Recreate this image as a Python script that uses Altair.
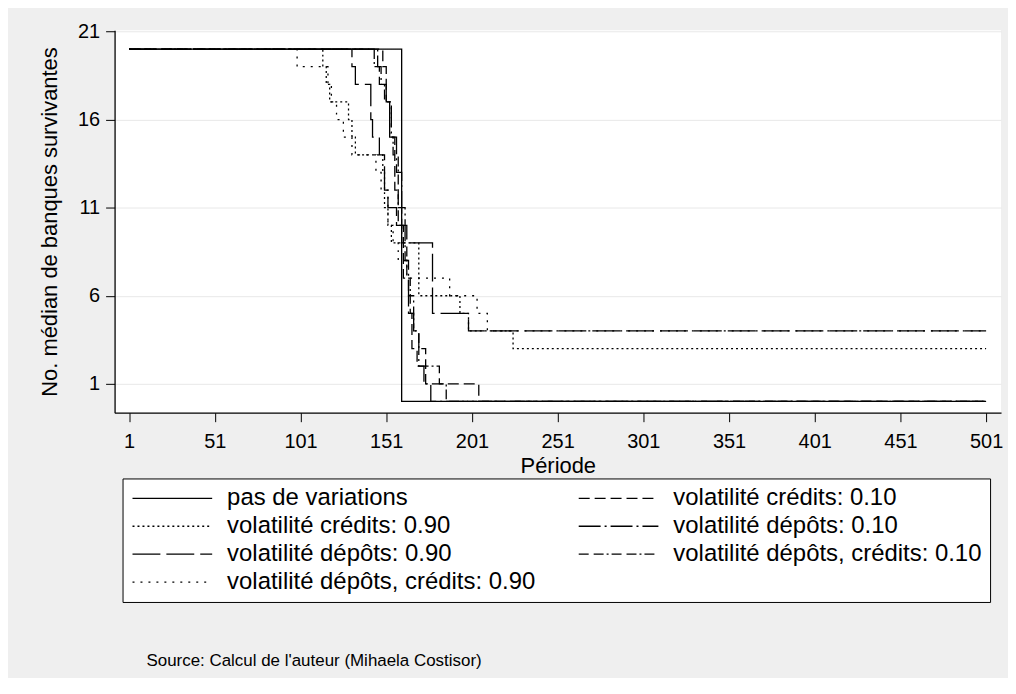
import altair as alt
import pandas as pd

# ---- data ----
series_names = [
    "pas de variations",
    "volatilité crédits: 0.10",
    "volatilité crédits: 0.90",
    "volatilité dépôts: 0.10",
    "volatilité dépôts: 0.90",
    "volatilité dépôts, crédits: 0.10",
    "volatilité dépôts, crédits: 0.90",
]

pas_periods = [1, 160, 501]
pas_values = [20, 0, 0]

c10_periods = [1, 149, 151, 153, 156, 158, 161, 164, 166, 169, 174, 205, 501]
c10_values = [20, 19, 17, 15, 12, 10, 7, 5, 3, 2, 1, 0, 0]

c90_periods = [1, 114, 116, 118, 129, 131, 133, 149, 150, 152, 154, 170, 194, 199, 225, 501]
c90_values = [20, 19, 18, 17, 16, 15, 14, 13, 11, 10, 9, 6, 5, 4, 3, 3]

d10_periods = [1, 146, 148, 151, 154, 157, 160, 162, 164, 167, 170, 173, 177, 501]
d10_values = [20, 19, 18, 17, 15, 13, 11, 8, 6, 4, 2, 1, 0, 0]

d90_periods = [1, 131, 133, 142, 143, 147, 150, 152, 157, 163, 178, 199, 501]
d90_values = [20, 19, 18, 16, 15, 14, 12, 11, 10, 9, 5, 4, 4]

dc10_periods = [1, 144, 147, 150, 153, 155, 158, 160, 163, 165, 167, 170, 174, 182, 186, 501]
dc10_values = [20, 19, 18, 17, 15, 14, 11, 9, 7, 5, 4, 3, 2, 1, 0, 0]

dc90_periods = [1, 99, 117, 119, 122, 126, 131, 145, 148, 152, 155, 158, 163, 188, 204, 210, 501]
dc90_values = [20, 19, 18, 17, 16, 15, 14, 13, 12, 10, 9, 8, 7, 6, 5, 4, 4]

x_ticks = [1, 51, 101, 151, 201, 251, 301, 351, 401, 451, 501]
y_ticks = [1, 6, 11, 16, 21]

note_text = "Source: Calcul de l'auteur (Mihaela Costisor)"

# ---- build table ----
all_series = [
    (pas_periods, pas_values),
    (c10_periods, c10_values),
    (c90_periods, c90_values),
    (d10_periods, d10_values),
    (d90_periods, d90_values),
    (dc10_periods, dc10_values),
    (dc90_periods, dc90_values),
]
rows = []
for name, (ps, vs) in zip(series_names, all_series):
    for p, v in zip(ps, vs):
        rows.append({"serie": name, "periode": p, "valeur": v})
df = pd.DataFrame(rows)

dash_of = {
    "pas de variations": [1, 0],
    "volatilité crédits: 0.10": [11, 5],
    "volatilité crédits: 0.90": [2, 3],
    "volatilité dépôts: 0.10": [22, 4, 2, 4],
    "volatilité dépôts: 0.90": [28, 6],
    "volatilité dépôts, crédits: 0.10": [10, 5, 10, 3, 2, 3],
    "volatilité dépôts, crédits: 0.90": [2, 6],
}

# legend fills column by column (4 rows): order so it reads row by row like the original
legend_order = [series_names[i] for i in (0, 2, 4, 6, 1, 3, 5)]
legend_dashes = [dash_of[s] for s in legend_order]

FONT = "Liberation Sans"

lines = alt.Chart(df).mark_line(
    interpolate="step-after", color="black", strokeWidth=1.3, clip=True
).encode(
    x=alt.X(
        "periode:Q",
        scale=alt.Scale(domain=[-7.5, 509.7], nice=False, zero=False),
        axis=alt.Axis(
            values=x_ticks, grid=False, title="Période", tickSize=9,
            labelPadding=10, titlePadding=4,
        ),
    ),
    y=alt.Y(
        "valeur:Q",
        scale=alt.Scale(domain=[-0.64, 21.07], nice=False, zero=False),
        axis=alt.Axis(
            values=y_ticks, grid=True, title="No. médian de banques survivantes",
            tickSize=9, labelPadding=6, titlePadding=16,
        ),
    ),
    strokeDash=alt.StrokeDash(
        "serie:N",
        scale=alt.Scale(domain=legend_order, range=legend_dashes),
        legend=alt.Legend(
            title=None,
            orient="none",
            legendX=8,
            legendY=450,
            columns=2,
            symbolType="M-1,0H7",
            symbolSize=400,
            symbolStrokeColor="black",
            symbolStrokeWidth=1.3,
            symbolFillColor="transparent",
            labelFont=FONT,
            labelFontSize=24,
            labelColor="black",
            labelOffset=73,
            labelLimit=500,
            rowPadding=4,
            columnPadding=40,
            padding=8,
            fillColor="white",
            strokeColor="black",
        ),
    ),
)

note = alt.Chart(pd.DataFrame({"t": [note_text]})).mark_text(
    align="left", baseline="middle", font=FONT, fontSize=17, color="black"
).encode(
    text="t:N",
    x=alt.value(32),
    y=alt.value(633),
)

chart = alt.layer(lines, note).properties(
    width=890,
    height=384,
    background="#EFEFEF",
    padding={"left": 30, "top": 12, "right": 5, "bottom": 8},
).configure_view(
    fill="white", stroke=None
).configure_axis(
    labelFont=FONT,
    titleFont=FONT,
    labelFontSize=20,
    titleFontSize=22,
    titleFontWeight="normal",
    labelColor="black",
    titleColor="black",
    domainColor="black",
    tickColor="black",
    gridColor="#E8E8E8",
    domainWidth=1.3,
)

chart.save("out.html", embed_options={"renderer": "svg", "actions": False})
